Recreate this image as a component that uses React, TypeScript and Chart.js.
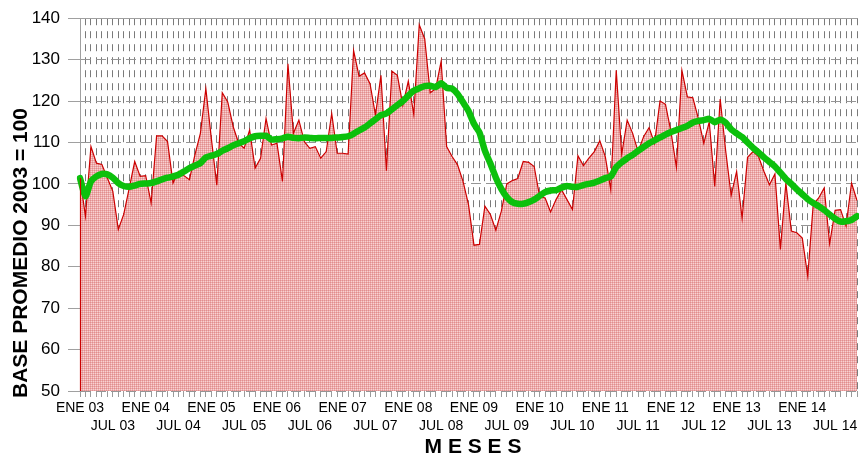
import React, { useEffect, useRef } from "react";
import { Chart, registerables } from "chart.js";

Chart.register(...registerables);

const MONTHS = ["ENE", "FEB", "MAR", "ABR", "MAY", "JUN", "JUL", "AGO", "SEP", "OCT", "NOV", "DIC"];
const YEARS = ["03", "04", "05", "06", "07", "08", "09", "10", "11", "12", "13", "14"];
const N_POINTS = 143;

const INDEX_VALUES = [
  101.4, 92.2, 109, 105, 104.7, 101.4, 98.2, 89, 92.7, 99, 105.4, 101.8,
  102, 95.4, 111.6, 111.6, 110.2, 100.2, 103, 102, 101, 107, 112.2, 123,
  111, 99.7, 122, 119.8, 113.8, 109.8, 108.6, 113, 103.8, 106.2, 115.8, 109.4,
  109.8, 100.6, 129, 112.2, 115.4, 110.2, 108.6, 109, 106.2, 107.8, 117, 107.4,
  107.4, 107.2, 132.2, 126, 126.8, 124.2, 116.6, 126.2, 103.2, 127.2, 126.2, 119,
  124.8, 116.8, 138.4, 135, 122, 123, 129.6, 109, 106.6, 104.6, 100.6, 95,
  85.2, 85.4, 94.6, 92.6, 88.8, 93.4, 100, 100.8, 101.3, 105.4, 105.2, 104.2,
  97, 96.6, 93.2, 96.2, 98.6, 96.2, 93.8, 106.8, 104.4, 106.2, 107.8, 110.4,
  106.6, 98.6, 127.4, 107.2, 115.4, 112.2, 107.8, 111.4, 113.6, 109.8, 120, 119.2,
  112.6, 104, 127.4, 121, 120.8, 115.8, 109.8, 115, 99.4, 120.5, 108, 97.2,
  103, 91.7, 106.4, 107.8, 106.6, 103, 99.8, 102.4, 84.2, 100.2, 88.6, 88.2,
  86.9, 77.7, 95, 96.6, 99, 85.6, 93.6, 93.8, 89.8, 100.2, 96,
];

const TREND_VALUES = [
  101.4, 97, 100.6, 101.8, 102.4, 102.3, 101.5, 100.2, 99.5, 99.3, 99.6, 100,
  100.1, 100.2, 100.6, 101.1, 101.5, 101.8, 102.2, 103, 103.8, 104.4, 105, 106.4,
  106.8, 107.2, 108, 108.6, 109.3, 109.8, 110.3, 111, 111.5, 111.6, 111.6, 110.7,
  110.8, 111, 111.4, 111.1, 111, 111.2, 111.1, 111, 111.1, 111.1, 111.1, 111.2,
  111.3, 111.5, 112.1, 112.9, 113.6, 114.6, 115.6, 116.6, 117, 118, 119, 120,
  121.3, 122.5, 123.1, 123.6, 123.7, 123.4, 124.3, 123.2, 123, 121.7, 119.7, 117.6,
  114.5, 112.4, 108, 104.9, 101.5, 98.8, 96.8, 95.6, 95.2, 95.2, 95.6, 96.2,
  97.1, 98, 98.4, 98.5, 99.1, 99.5, 99.3, 99.3, 99.7, 100, 100.3, 100.8,
  101.4, 101.8, 104, 105.2, 106.2, 107, 108, 108.9, 109.8, 110.5, 111.2, 111.9,
  112.5, 113, 113.5, 114, 114.8, 115.2, 115.4, 115.7, 114.9, 115.5, 114.8, 113.2,
  112.2, 111.3, 110, 108.7, 107.6, 106.4, 105.3, 104.2, 102.7, 101.2, 100, 98.7,
  97.5, 96.3, 95.4, 94.6, 93.7, 92.6, 91.6, 90.9, 91, 91.3, 92.2,
];

const Y_MIN = 50;
const Y_MAX = 140;
const Y_STEP = 10;
const Y_TITLE = "BASE PROMEDIO 2003 = 100";
const X_TITLE = "M E S E S";

const LABELS: string[] = [];
for (let i = 0; i < N_POINTS; i++) {
  LABELS.push(MONTHS[i % 12] + " " + YEARS[Math.floor(i / 12)]);
}

const FONT = '"Liberation Sans", Arial, Helvetica, sans-serif';

function makePattern(ctx: CanvasRenderingContext2D) {
  const pc = document.createElement("canvas");
  pc.width = 2;
  pc.height = 2;
  const p = pc.getContext("2d")!;
  p.fillStyle = "#f7d2d2";
  p.fillRect(0, 0, 2, 2);
  p.fillStyle = "#eeaaaa";
  p.fillRect(1, 0, 1, 1);
  p.fillRect(0, 1, 1, 1);
  p.fillStyle = "#e08e8e";
  p.fillRect(0, 0, 1, 1);
  return ctx.createPattern(pc, "repeat");
}

const decorPlugin = {
  id: "decor",
  afterDatasetsDraw(chart: any) {
    const { ctx, chartArea, scales } = chart;
    const x = scales.x;
    const y = scales.y;
    ctx.save();
    ctx.strokeStyle = "#cc0000";
    ctx.lineWidth = 1.2;
    ctx.beginPath();
    const x0 = x.getPixelForValue(0);
    ctx.moveTo(x0 + 0.5, y.getPixelForValue(INDEX_VALUES[0]));
    ctx.lineTo(x0 + 0.5, chartArea.bottom);
    ctx.stroke();
    ctx.restore();
  },
  afterDraw(chart: any) {
    const { ctx, chartArea } = chart;
    ctx.save();
    ctx.strokeStyle = "#a0a0a0";
    ctx.lineWidth = 1;
    ctx.beginPath();
    ctx.moveTo(chartArea.left, Math.round(chartArea.top) + 0.5);
    ctx.lineTo(chartArea.right, Math.round(chartArea.top) + 0.5);
    ctx.stroke();
    ctx.fillStyle = "#000";
    ctx.font = "bold 21px " + FONT;
    ctx.textBaseline = "alphabetic";
    ctx.save();
    ctx.translate(27, 398);
    ctx.rotate(-Math.PI / 2);
    ctx.textAlign = "left";
    ctx.fillText(Y_TITLE, 0, 0);
    ctx.restore();
    ctx.textAlign = "center";
    ctx.fillText(X_TITLE, 473, 453);
    ctx.restore();
  },
};

export default function App() {
  const ref = useRef<HTMLCanvasElement>(null);
  useEffect(() => {
    document.body.style.margin = "0";
    document.body.style.overflow = "hidden";
    const canvas = ref.current!;
    const ctx = canvas.getContext("2d")!;
    const pattern = makePattern(ctx);
    const chart = new Chart(ctx, {
      type: "line",
      data: {
        labels: LABELS,
        datasets: [
          {
            label: "Tendencia",
            data: TREND_VALUES,
            borderColor: "#0cc00c",
            borderWidth: 6.5,
            pointRadius: 0,
            fill: false,
            tension: 0.2,
            borderCapStyle: "round",
            borderJoinStyle: "round",
          },
          {
            label: "Indice",
            data: INDEX_VALUES,
            borderColor: "#cc0000",
            borderWidth: 1.2,
            pointRadius: 0,
            fill: "start",
            backgroundColor: pattern as any,
            tension: 0,
          },
        ],
      },
      options: {
        animation: false,
        responsive: false,
        devicePixelRatio: 1,
        events: [],
        layout: { padding: { top: 16, right: 0, left: 0, bottom: 0 } },
        plugins: { legend: { display: false }, tooltip: { enabled: false }, title: { display: false } },
        scales: {
          x: {
            type: "category",
            offset: false,
            afterFit(scale: any) {
              scale.height = 66;
            },
            grid: {
              color: "#7a7a7a",
              lineWidth: 1,
              drawTicks: true,
              tickLength: 6,
              tickColor: "#9a9a9a",
              tickBorderDash: [],
            },
            border: { display: false, dash: [7, 6] },
            ticks: {
              autoSkip: false,
              maxRotation: 0,
              minRotation: 0,
              padding: 2,
              color: "#000",
              font: { family: FONT, size: 14, lineHeight: 1.3 },
              callback: function (this: any, value: any) {
                const lab: string = this.getLabelForValue(value);
                if (lab.startsWith("ENE")) return lab;
                if (lab.startsWith("JUL")) return ["", lab];
                return "";
              },
            },
          },
          y: {
            min: Y_MIN,
            max: Y_MAX,
            afterFit(scale: any) {
              scale.width = 80;
            },
            grid: {
              color: "#959595",
              lineWidth: 1,
              tickLength: 12,
              tickColor: "#a0a0a0",
              tickBorderDash: [],
            },
            border: {
              display: true,
              color: "#a0a0a0",
              width: 1,
              dash: (c: any) => (c.tick && c.tick.value === Y_MAX ? [] : [10, 5]),
            },
            ticks: {
              stepSize: Y_STEP,
              padding: 8,
              color: "#000",
              font: { family: FONT, size: 17 },
            },
          },
        },
      },
      plugins: [decorPlugin],
    });
    return () => chart.destroy();
  }, []);
  return (
    <div style={{ width: 859, height: 457 }}>
      <canvas ref={ref} width={859} height={457} style={{ display: "block" }} />
    </div>
  );
}
